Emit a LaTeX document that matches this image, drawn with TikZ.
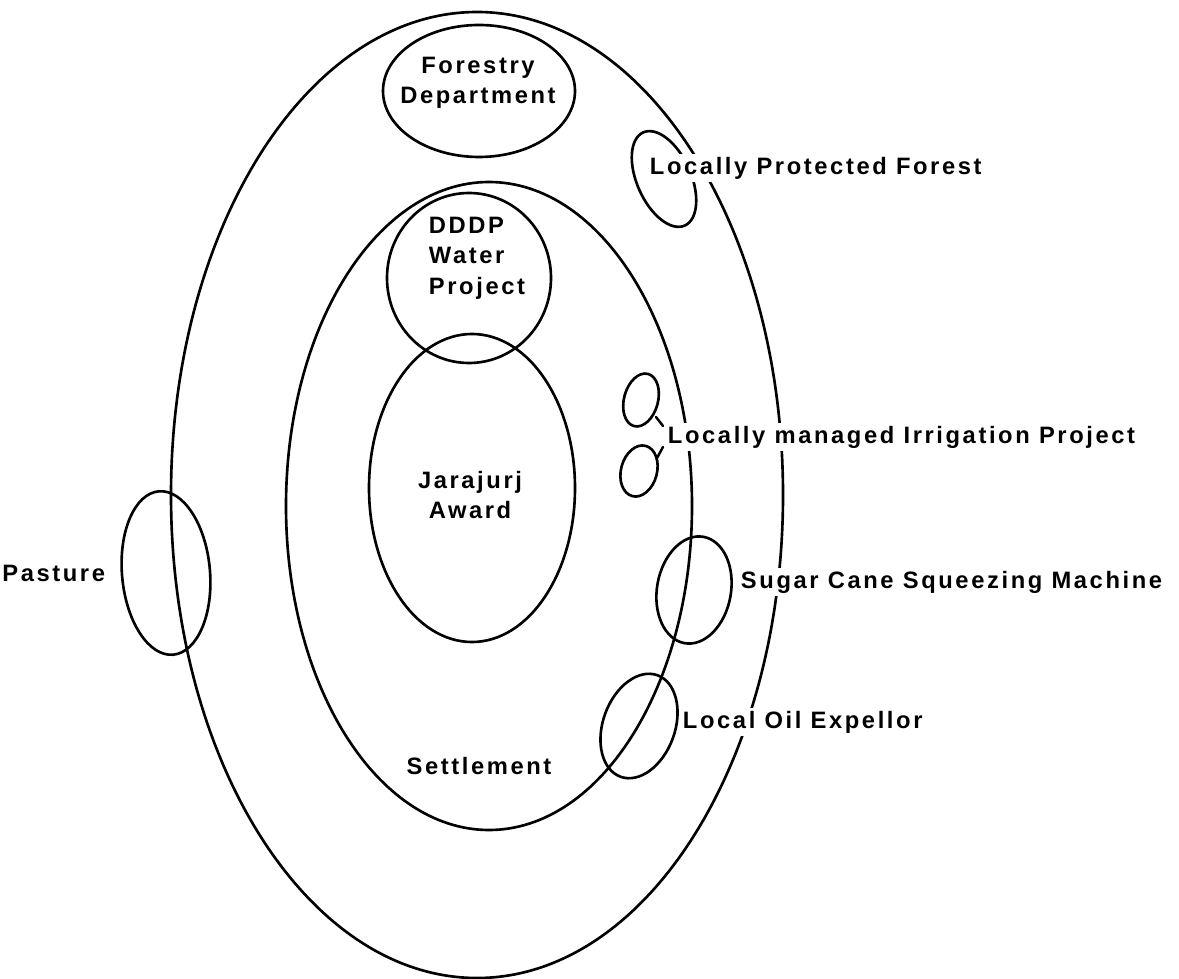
\documentclass[tikz,border=0pt]{standalone}
\usepackage{fontspec}
\setmainfont{Liberation Sans}[LetterSpace=11]
\usetikzlibrary{shapes.geometric, positioning}
\newlength{\pxl}
\setlength{\pxl}{0.02cm}
\tikzset{
    zone/.style={ellipse, draw=black, line width=1.5pt, inner sep=0pt, outer sep=0pt},
    lbl/.style={font=\fontsize{13.5}{17.3}\selectfont\bfseries, inner sep=1.5pt, align=center},
    tag/.style={lbl, fill=white},
    tick/.style={line width=1.4pt, line cap=round}
}
\begin{document}
\begin{tikzpicture}[x=0.02cm, y=-0.02cm]
    \useasboundingbox (0,0) rectangle (1179,979);
    \node[zone, minimum width=612\pxl, minimum height=966\pxl] (outer) at (477,495) {};
    \node[zone, minimum width=406\pxl, minimum height=648\pxl] (settle) at (489,506) {};
    \node[zone, minimum width=206\pxl, minimum height=308\pxl] (award) at (472,488) {};
    \node[zone, minimum width=164\pxl, minimum height=170\pxl] (dddp) at (469,278) {};
    \node[zone, minimum width=192\pxl, minimum height=132\pxl] (forest) at (479,91) {};
    \node[zone, minimum width=88\pxl, minimum height=164\pxl, rotate=5] (pasture) at (166,573) {};
    \node[zone, minimum width=54\pxl, minimum height=102\pxl, rotate=24] (lpf) at (664,179) {};
    \node[zone, minimum width=34\pxl, minimum height=54\pxl, rotate=-15] (irrA) at (641,400) {};
    \node[zone, minimum width=36\pxl, minimum height=52\pxl, rotate=-15] (irrB) at (639,471) {};
    \node[zone, minimum width=74\pxl, minimum height=108\pxl, rotate=-10] (cane) at (694,590) {};
    \node[zone, minimum width=72\pxl, minimum height=108\pxl, rotate=-20] (oil) at (639,726) {};

    \node[lbl] (forestlbl) at (478,83) {Forestry\\Department};
    \node[lbl, align=left, anchor=west] (dddplbl) at (426,258) {DDDP\\Water\\Project};
    \node[lbl] (awardlbl) at (470,495) {Jarajurj\\Award};
    \node[lbl] (settlelbl) at (479,766) {Settlement};
    \node[tag, anchor=east] (pasturelbl) at (108,573) {Pasture};
    \node[tag, anchor=west] (lpflbl) at (647,168) {Locally Protected Forest};
    \node[tag, anchor=west] (irrlbl) at (665,437) {Locally managed Irrigation Project};
    \node[tag, anchor=west] (canelbl) at (738,582) {Sugar Cane Squeezing Machine};
    \node[tag, anchor=west] (oillbl) at (680,722) {Local Oil Expellor};

    \coordinate (tickA1) at (656,417);
    \coordinate (tickA2) at (663,426);
    \coordinate (tickB1) at (657,458);
    \coordinate (tickB2) at (663,447);
    \draw[tick] (tickA1) -- (tickA2);
    \draw[tick] (tickB1) -- (tickB2);
\end{tikzpicture}
\end{document}
